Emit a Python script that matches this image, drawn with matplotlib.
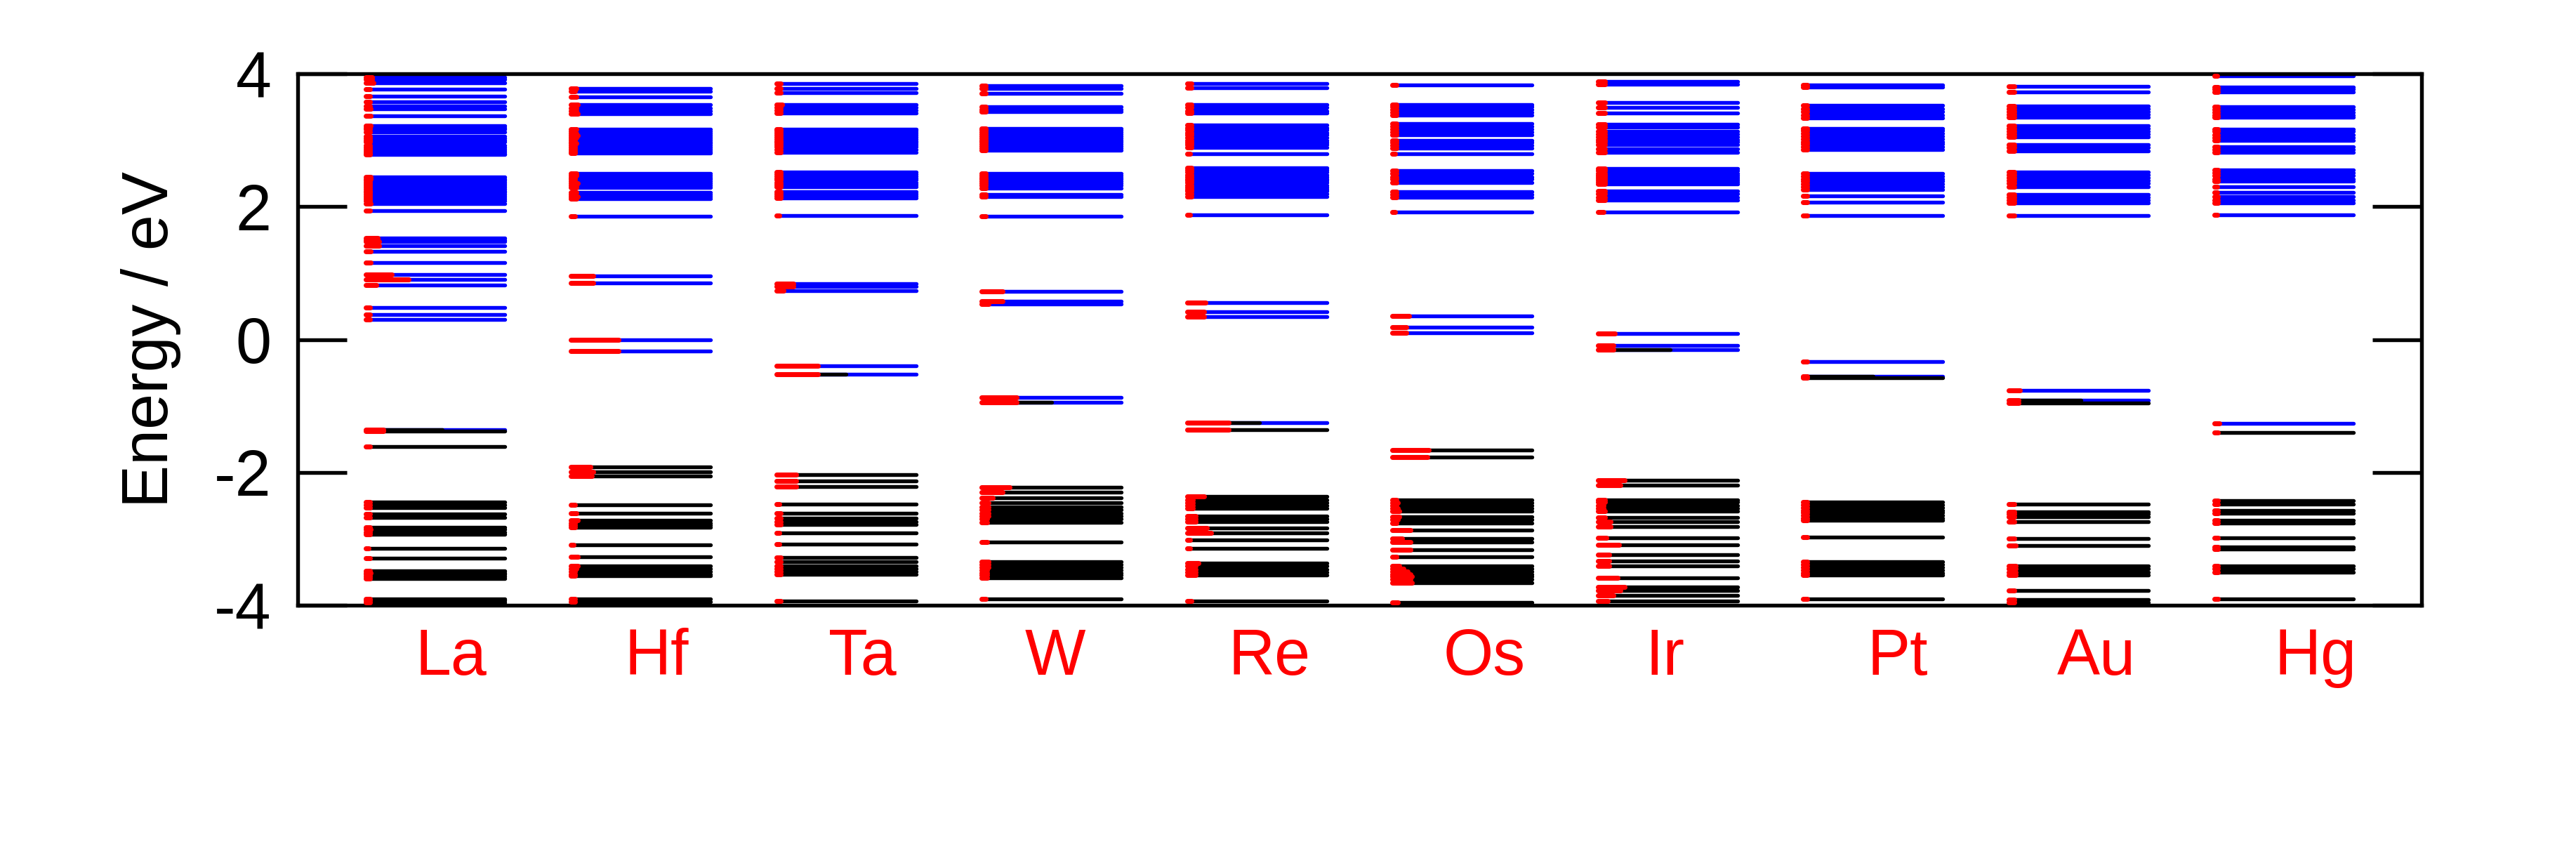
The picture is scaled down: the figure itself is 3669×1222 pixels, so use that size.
import matplotlib
matplotlib.use("Agg")
import matplotlib.pyplot as plt

plt.rcParams['font.family'] = ['Liberation Sans', 'DejaVu Sans']
plt.rcParams['axes.unicode_minus'] = False

# ---------------- data ----------------
elements = ["La", "Hf", "Ta", "W", "Re", "Os", "Ir", "Pt", "Au", "Hg"]

# each level: energy (eV), occupation (0 empty / 1 filled / fraction partial), red weight (fraction)
la_E = [3.95, 3.92, 3.865, 3.77, 3.66, 3.58, 3.51, 3.47, 3.37,
        3.22, 3.19, 3.16, 3.12, 3.06, 3.03, 3.00, 2.97, 2.92, 2.89, 2.86, 2.83, 2.80, 2.78,
        2.45, 2.42, 2.39, 2.36, 2.33, 2.30, 2.27, 2.24, 2.21, 2.18, 2.15, 2.12, 2.09, 2.04, 1.94,
        1.53, 1.50, 1.47, 1.41, 1.33, 1.16, 0.98, 0.90, 0.82, 0.48, 0.38, 0.30,
        -1.36, -1.38, -1.61, -2.45, -2.49, -2.53, -2.63, -2.68, -2.83, -2.86, -2.90, -2.93,
        -3.14, -3.29, -3.48, -3.51, -3.54, -3.57, -3.60, -3.90, -3.93, -3.96]
la_occ = [0]*50 + [0.55] + [1]*21
la_red = [0.05, 0.05, 0.06, 0.03, 0.03, 0.03, 0.03, 0.04, 0.04,
          0.04, 0.03, 0.03, 0.03, 0.03, 0.03, 0.03, 0.03, 0.03, 0.03, 0.03, 0.03, 0.03, 0.03,
          0.04, 0.04, 0.03, 0.03, 0.03, 0.03, 0.03, 0.03, 0.03, 0.03, 0.03, 0.03, 0.03, 0.04, 0.03,
          0.09, 0.09, 0.10, 0.10, 0.04, 0.04, 0.19, 0.31, 0.08, 0.03, 0.03, 0.03,
          0.13, 0.13, 0.03, 0.03, 0.03, 0.03, 0.03, 0.03, 0.03, 0.04, 0.03, 0.03,
          0.02, 0.03, 0.03, 0.04, 0.03, 0.03, 0.03, 0.03, 0.03, 0.03]

hf_E = [3.78, 3.74, 3.65, 3.54, 3.48, 3.44, 3.40,
        3.16, 3.13, 3.10, 3.07, 3.04, 3.01, 2.98, 2.95, 2.92, 2.89, 2.86, 2.83, 2.81,
        2.50, 2.47, 2.44, 2.41, 2.38, 2.35, 2.32, 2.29, 2.21, 2.18, 2.15, 2.12, 1.85,
        0.96, 0.85, 0.00, -0.17,
        -1.92, -1.99, -2.06, -2.49, -2.62, -2.72, -2.76, -2.79, -2.83, -3.09, -3.27,
        -3.41, -3.45, -3.49, -3.53, -3.56, -3.91, -3.95]
hf_occ = [0]*37 + [1]*18
hf_red = [0.04, 0.03, 0.04, 0.05, 0.04, 0.04, 0.05,
          0.04, 0.03, 0.04, 0.05, 0.04, 0.03, 0.03, 0.04, 0.03, 0.03, 0.03, 0.03, 0.03,
          0.04, 0.04, 0.03, 0.03, 0.03, 0.05, 0.04, 0.04, 0.04, 0.03, 0.05, 0.04, 0.03,
          0.16, 0.16, 0.34, 0.34,
          0.14, 0.16, 0.15, 0.03, 0.04, 0.05, 0.03, 0.03, 0.03, 0.02, 0.05,
          0.05, 0.04, 0.03, 0.03, 0.03, 0.03, 0.03]

ta_E = [3.85, 3.78, 3.71, 3.53, 3.49, 3.45, 3.41,
        3.17, 3.14, 3.11, 3.08, 3.05, 3.02, 2.99, 2.96, 2.93, 2.90, 2.86, 2.82,
        2.52, 2.49, 2.46, 2.43, 2.40, 2.36, 2.33, 2.30, 2.22, 2.19, 2.16, 2.13, 1.86,
        0.84, 0.80, 0.73, -0.40, -0.52,
        -2.03, -2.13, -2.21, -2.48, -2.62, -2.69, -2.74, -2.78, -2.91, -3.08, -3.28,
        -3.34, -3.41, -3.45, -3.49, -3.53, -3.94]
ta_occ = [0]*36 + [0.5] + [1]*17
ta_red = [0.03, 0.03, 0.03, 0.04, 0.03, 0.03, 0.03,
          0.03, 0.03, 0.03, 0.03, 0.03, 0.03, 0.03, 0.03, 0.03, 0.03, 0.03, 0.03,
          0.03, 0.03, 0.03, 0.03, 0.03, 0.03, 0.03, 0.03, 0.03, 0.03, 0.03, 0.03, 0.02,
          0.12, 0.12, 0.05, 0.30, 0.30,
          0.14, 0.14, 0.14, 0.02, 0.03, 0.03, 0.03, 0.03, 0.02, 0.02, 0.03,
          0.03, 0.03, 0.03, 0.03, 0.03, 0.03]

w_E = [3.82, 3.78, 3.70, 3.50, 3.46, 3.43,
       3.18, 3.15, 3.12, 3.09, 3.06, 3.03, 3.00, 2.97, 2.94, 2.91, 2.88, 2.85,
       2.50, 2.47, 2.44, 2.41, 2.38, 2.35, 2.32, 2.28, 2.18, 2.15, 1.85,
       0.72, 0.58, 0.53, -0.87, -0.95,
       -2.22, -2.30, -2.38, -2.46, -2.52, -2.56, -2.62, -2.66, -2.70, -2.75, -3.05,
       -3.35, -3.39, -3.43, -3.47, -3.51, -3.55, -3.59, -3.90]
w_occ = [0]*33 + [0.5] + [1]*19
w_red = [0.03]*29 + [0.15, 0.15, 0.05, 0.25, 0.25,
                     0.20, 0.15, 0.08, 0.05, 0.05, 0.05, 0.05, 0.05, 0.04, 0.04, 0.04,
                     0.05, 0.05, 0.05, 0.04, 0.04, 0.04, 0.04, 0.03]

re_E = [3.85, 3.79, 3.53, 3.49, 3.44, 3.41,
        3.23, 3.19, 3.15, 3.11, 3.08, 3.04, 3.00, 2.96, 2.93, 2.89, 2.79,
        2.58, 2.55, 2.52, 2.48, 2.45, 2.42, 2.39, 2.36, 2.32, 2.29, 2.26, 2.23, 2.19, 2.15, 1.88,
        0.56, 0.42, 0.34, -1.25,
        -1.36, -2.36, -2.42, -2.46, -2.50, -2.54, -2.66, -2.70, -2.74, -2.84, -2.91,
        -3.02, -3.14, -3.37, -3.41, -3.46, -3.50, -3.55, -3.94]
re_occ = [0]*35 + [0.52] + [1]*19
re_red = [0.03, 0.03, 0.03, 0.03, 0.03, 0.03,
          0.03, 0.03, 0.03, 0.03, 0.03, 0.03, 0.03, 0.03, 0.03, 0.03, 0.02,
          0.03, 0.03, 0.03, 0.03, 0.03, 0.03, 0.03, 0.03, 0.03, 0.03, 0.03, 0.03, 0.03, 0.03, 0.02,
          0.13, 0.12, 0.12, 0.30,
          0.30, 0.12, 0.04, 0.04, 0.04, 0.04, 0.06, 0.06, 0.06, 0.14, 0.17,
          0.02, 0.02, 0.08, 0.06, 0.06, 0.06, 0.06, 0.03]

os_E = [3.83, 3.54, 3.50, 3.46, 3.42, 3.38,
        3.25, 3.21, 3.16, 3.12, 3.08, 3.00, 2.96, 2.92, 2.88, 2.80,
        2.54, 2.50, 2.45, 2.41, 2.36, 2.22, 2.18, 2.14, 1.92,
        0.35, 0.19, 0.10,
        -1.66, -1.77, -2.42, -2.46, -2.50, -2.54, -2.58, -2.67, -2.71, -2.76,
        -2.87, -3.00, -3.05, -3.16, -3.27, -3.41, -3.45, -3.49, -3.53, -3.57, -3.61, -3.66, -3.96]
os_occ = [0]*28 + [1]*23
os_red = [0.03, 0.03, 0.03, 0.03, 0.03, 0.03,
          0.03, 0.03, 0.03, 0.03, 0.03, 0.03, 0.03, 0.03, 0.03, 0.02,
          0.03, 0.03, 0.03, 0.03, 0.03, 0.03, 0.03, 0.03, 0.02,
          0.12, 0.10, 0.10,
          0.26, 0.25, 0.03, 0.04, 0.03, 0.04, 0.05, 0.05, 0.04, 0.03,
          0.13, 0.07, 0.13, 0.13, 0.03, 0.05, 0.08, 0.11, 0.13, 0.14, 0.13, 0.14, 0.04]

ir_E = [3.88, 3.84, 3.57, 3.49, 3.41,
        3.24, 3.20, 3.13, 3.09, 3.05, 3.01, 2.97, 2.93, 2.87, 2.82,
        2.57, 2.54, 2.50, 2.47, 2.44, 2.40, 2.37, 2.34, 2.23, 2.19, 2.14, 2.10, 1.92,
        0.09, -0.09, -0.15,
        -2.12, -2.19, -2.41, -2.45, -2.50, -2.54, -2.58, -2.68, -2.74, -2.82,
        -2.99, -3.09, -3.24, -3.33, -3.41, -3.59, -3.72, -3.78, -3.85, -3.94]
ir_occ = [0]*30 + [0.52] + [1]*20
ir_red = [0.05, 0.05, 0.05, 0.05, 0.05,
          0.05, 0.05, 0.05, 0.05, 0.05, 0.05, 0.05, 0.05, 0.05, 0.05,
          0.05, 0.05, 0.05, 0.05, 0.05, 0.05, 0.05, 0.05, 0.05, 0.05, 0.05, 0.05, 0.04,
          0.12, 0.11, 0.11,
          0.19, 0.16, 0.05, 0.05, 0.04, 0.04, 0.05, 0.05, 0.09, 0.09,
          0.06, 0.15, 0.08, 0.08, 0.08, 0.14, 0.19, 0.16, 0.11, 0.07]

pt_E = [3.83, 3.80, 3.52, 3.47, 3.43, 3.38, 3.33,
        3.18, 3.14, 3.10, 3.06, 3.02, 2.98, 2.94, 2.90, 2.86,
        2.50, 2.46, 2.42, 2.38, 2.34, 2.30, 2.26, 2.16, 2.07, 1.87,
        -0.33, -0.55,
        -0.58, -2.45, -2.49, -2.53, -2.57, -2.61, -2.65, -2.69, -2.72, -2.98,
        -3.35, -3.39, -3.43, -3.47, -3.51, -3.55, -3.90]
pt_occ = [0]*27 + [0.5] + [1]*17
pt_red = [0.03]*26 + [0.03, 0.03,
                      0.03, 0.03, 0.03, 0.03, 0.03, 0.03, 0.03, 0.03, 0.03, 0.03,
                      0.03, 0.03, 0.03, 0.03, 0.03, 0.03, 0.03]

au_E = [3.81, 3.73, 3.51, 3.47, 3.43, 3.39, 3.35,
        3.22, 3.18, 3.13, 3.09, 3.05, 2.93, 2.89, 2.84,
        2.52, 2.48, 2.44, 2.39, 2.35, 2.30, 2.18, 2.14, 2.10, 2.06, 1.86,
        -0.77, -0.91,
        -0.96, -2.48, -2.59, -2.63, -2.67, -2.74, -3.00, -3.10,
        -3.41, -3.45, -3.50, -3.55, -3.78, -3.92, -3.96]
au_occ = [0]*27 + [0.52] + [1]*15
au_red = [0.04, 0.04, 0.04, 0.04, 0.04, 0.04, 0.04,
          0.04, 0.04, 0.04, 0.04, 0.04, 0.04, 0.04, 0.04,
          0.04, 0.04, 0.04, 0.04, 0.04, 0.04, 0.04, 0.04, 0.04, 0.04, 0.04,
          0.08, 0.07,
          0.07, 0.04, 0.04, 0.04, 0.04, 0.04, 0.04, 0.05,
          0.05, 0.05, 0.05, 0.05, 0.04, 0.04, 0.04]

hg_E = [3.97, 3.80, 3.77, 3.73, 3.50, 3.46, 3.42, 3.38, 3.34,
        3.17, 3.13, 3.08, 3.04, 3.00, 2.90, 2.86, 2.82,
        2.55, 2.51, 2.47, 2.42, 2.38, 2.30, 2.21, 2.15, 2.10, 2.06, 1.88,
        -1.26,
        -1.40, -2.43, -2.48, -2.57, -2.62, -2.72, -2.76, -2.99, -3.12, -3.15,
        -3.41, -3.45, -3.50, -3.90]
hg_occ = [0]*29 + [1]*14
hg_red = [0.02, 0.03, 0.03, 0.03, 0.03, 0.03, 0.03, 0.03, 0.03,
          0.03, 0.03, 0.03, 0.03, 0.03, 0.03, 0.03, 0.03,
          0.03, 0.03, 0.03, 0.03, 0.03, 0.02, 0.02, 0.03, 0.03, 0.03, 0.02,
          0.04,
          0.03, 0.03, 0.03, 0.03, 0.03, 0.03, 0.03, 0.03, 0.03, 0.03,
          0.03, 0.03, 0.03, 0.03]

y_ticks = [-4, -2, 0, 2, 4]

levels = [(la_E, la_occ, la_red), (hf_E, hf_occ, hf_red), (ta_E, ta_occ, ta_red),
          (w_E, w_occ, w_red), (re_E, re_occ, re_red), (os_E, os_occ, os_red),
          (ir_E, ir_occ, ir_red), (pt_E, pt_occ, pt_red), (au_E, au_occ, au_red),
          (hg_E, hg_occ, hg_red)]

# ---------------- layout ----------------
W_PX, H_PX, DPI = 3670, 1222, 300
fig = plt.figure(figsize=(W_PX / DPI, H_PX / DPI), dpi=DPI)
ax = fig.add_axes([424 / W_PX, 1 - 862 / H_PX, (3449 - 424) / W_PX, (862 - 105) / H_PX])

half = 0.34
lw_line = 1.3
lw_red = 1.7
label_offset = [0.244, 0.262, 0.253, 0.21, 0.20, 0.247, 0.231, 0.311, 0.234, 0.294]

for i, (E, occ, red) in enumerate(levels):
    c = i + 1
    x0, x1 = c - half, c + half
    span = x1 - x0
    blue_y = [e for e, o in zip(E, occ) if o < 1]
    ax.hlines(blue_y, x0, x1, colors='#0000ff', linewidth=lw_line, capstyle='round', zorder=2)
    for e, o in zip(E, occ):
        if o > 0:
            ax.hlines(e, x0, x0 + o * span, colors='black', linewidth=lw_line,
                      capstyle='round', zorder=3)
    for e, r in zip(E, red):
        ax.hlines(e, x0, x0 + r * span, colors='#ff0000', linewidth=lw_red,
                  capstyle='round', zorder=4)
    ax.text(x0 + label_offset[i], -4 - 99 / 94.6, elements[i], color='#ff0000',
            fontsize=22, ha='left', va='baseline')

ax.set_xlim(0.33, 10.67)
ax.set_ylim(-4, 4)
ax.set_yticks(y_ticks)
ax.set_yticklabels([str(t) for t in y_ticks])
ax.set_xticks([])
ax.tick_params(axis='y', which='both', direction='in', length=16.8, width=1.3,
               left=True, right=True, labelsize=22, pad=9)
for s in ax.spines.values():
    s.set_linewidth(1.3)

ax.text(-0.069, 0.5, "Energy / eV", transform=ax.transAxes, rotation=90,
        ha='center', va='center', fontsize=22)

fig.savefig("out.png", dpi=DPI)
